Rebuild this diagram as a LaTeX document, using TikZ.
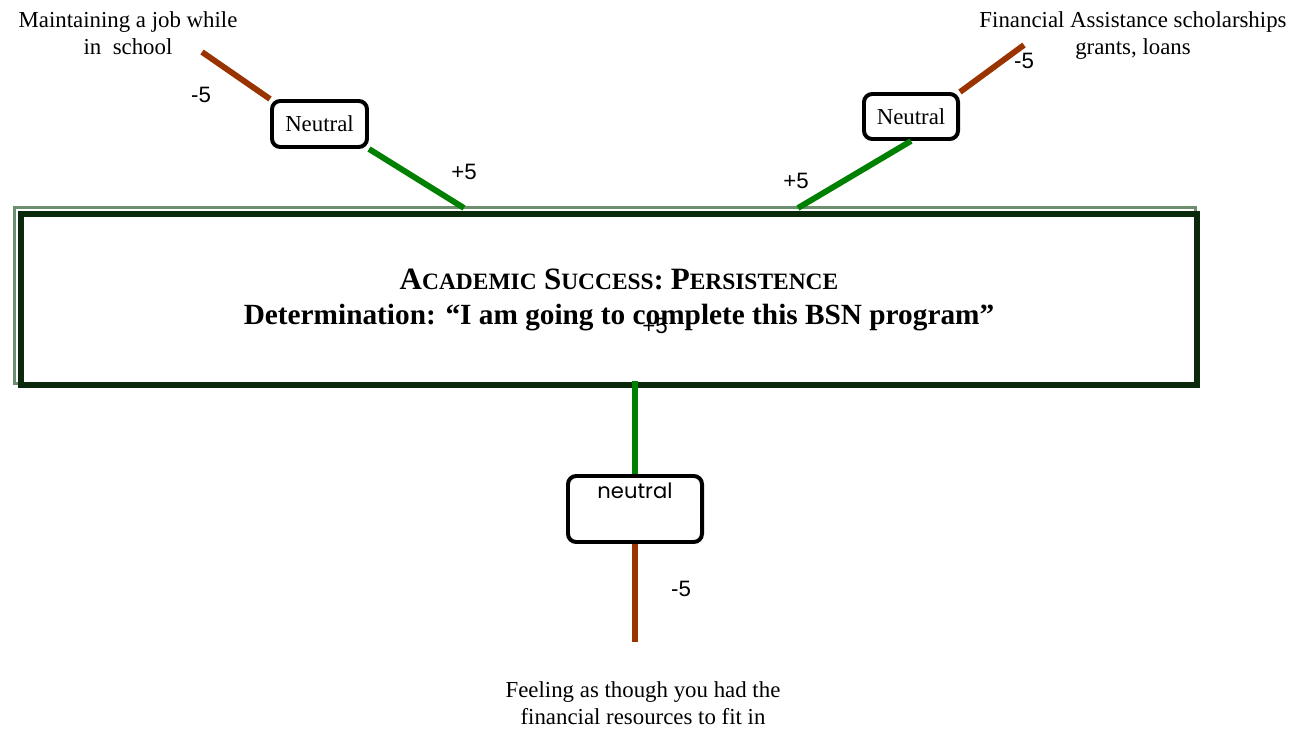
\documentclass[tikz,border=0pt]{standalone}
\usepackage{fontspec}
\setmainfont{Liberation Serif}
\newfontfamily\numfont{Liberation Sans}
\newfontfamily\roundfont{Poppins}
\usetikzlibrary{backgrounds}
\definecolor{BoxGreen}{HTML}{0B2A0B}
\definecolor{BevelGreen}{HTML}{6E8F6E}
\definecolor{PlusGreen}{HTML}{008000}
\definecolor{MinusBrown}{HTML}{993300}
\newcommand{\capsc}[2]{{\fontsize{26.5}{30}\selectfont #1}{\fontsize{20}{30}\selectfont #2}}

\begin{document}
\begin{tikzpicture}[x=0.03cm,y=-0.03cm,
  neutralbox/.style={draw=black,line width=3.4pt,rounded corners=7pt,fill=white,inner sep=0pt},
  plusline/.style={PlusGreen,line width=5pt},
  minusline/.style={MinusBrown,line width=5pt},
  score/.style={font=\numfont\fontsize{19}{22}\selectfont},
  factor/.style={font=\fontsize{19.5}{23}\selectfont,align=center}]
  \useasboundingbox (0,0) rectangle (1304,730);
  \node[draw=BoxGreen,line width=5pt,minimum width=35.27cm,minimum height=5.13cm,inner sep=0pt] (main) at (609,299.5) {};
  \begin{scope}[on background layer]
    \draw[BevelGreen,line width=2.6pt] ([shift={(-4,-4)}]main.north west) rectangle ([shift={(-4,-4)}]main.south east);
  \end{scope}
  \node[font=\bfseries\fontsize{25}{30.5}\selectfont,align=center] (title) at (619,300)
    {\capsc{A}{CADEMIC} \capsc{S}{UCCESS}: \capsc{P}{ERSISTENCE}\\
     Determination: “I am going to complete this BSN program”};

  \node[neutralbox,minimum width=2.85cm,minimum height=1.38cm,font=\fontsize{19.5}{23}\selectfont] (n1) at (319.5,124) {Neutral};
  \node[neutralbox,minimum width=2.82cm,minimum height=1.35cm,font=\fontsize{19.5}{23}\selectfont] (n2) at (911,116.5) {Neutral};
  \node[neutralbox,minimum width=4.02cm,minimum height=1.98cm,align=center,font=\roundfont\fontsize{18}{24}\selectfont] (n3) at (635,509) {neutral\\\strut};

  \coordinate (jobend) at (202,52);
  \coordinate (finend) at (1024,45);
  \coordinate (feelend) at (635,642);
  \coordinate (m1) at (464,208);
  \coordinate (m2) at (798,208);
  \coordinate (m3) at (635,381);

  \draw[minusline] (jobend) -- (n1.north west);
  \draw[plusline] (n1.south east) -- (m1);
  \draw[plusline] (m2) -- (n2.south);
  \draw[minusline] (n2.north east) -- (finend);
  \draw[plusline] (m3) -- (n3.north);
  \draw[minusline] (n3.south) -- (feelend);

  \node[score] (s1) at (201,95) {-5};
  \node[score] (s2) at (464,172) {+5};
  \node[score] (s3) at (796,181) {+5};
  \node[score] (s4) at (1024,61) {-5};
  \node[score] (s5) at (655,326) {+5};
  \node[score] (s6) at (681,589) {-5};

  \node[factor] (job) at (128,33) {Maintaining a job while\\in\ \ school};
  \node[factor] (fin) at (1133,36) {Financial Assistance scholarships\\grants, loans};
  \node[factor] (feel) at (643,703) {Feeling as though you had the\\financial resources to fit in};
\end{tikzpicture}
\end{document}
